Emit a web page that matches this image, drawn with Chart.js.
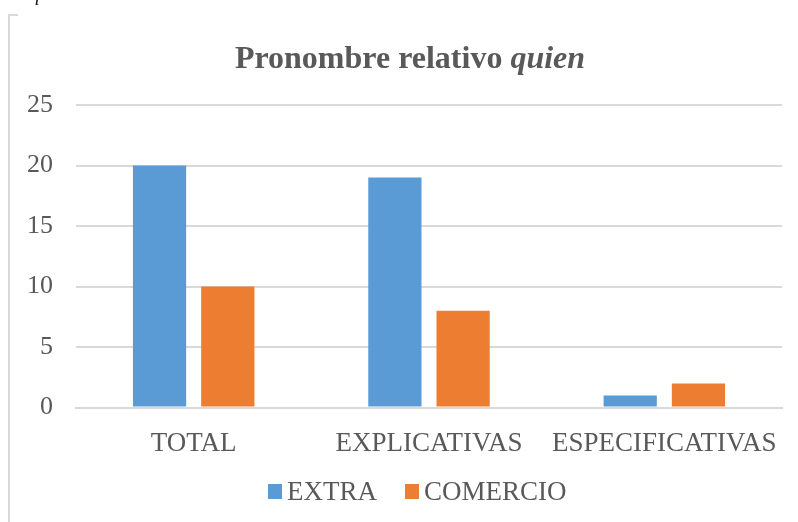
<!DOCTYPE html>
<html>
<head>
<meta charset="utf-8">
<script src="https://cdn.jsdelivr.net/npm/chart.js@4"></script>
<style>
    body { margin: 0; background: #fff; }
    #wrap { position: relative; width: 798px; height: 522px; overflow: hidden; }
    #chart { position: absolute; left: 0; top: 0; }
    .frame-left { position: absolute; left: 8px; top: 14px; width: 0; height: 520px; border-left: 2px solid #d9d9d9; }
    .frame-top { position: absolute; left: 8px; top: 14px; width: 10px; height: 0; border-top: 2px solid #d9d9d9; }
    .title {
        position: absolute; left: 0; width: 820px; top: 39px; text-align: center;
        font-family: "Liberation Serif", serif; font-weight: bold; font-size: 32px; color: #595959;
    }
    .cut { position: absolute; left: 30px; top: -18px; font-family: "Liberation Serif", serif; font-style: italic; font-size: 20px; color: #222; }
    #legend {
        position: absolute; left: 268px; top: 476px; display: flex; align-items: center;
        font-family: "Liberation Serif", serif; font-size: 27px; line-height: 31px; color: #595959;
    }
    #legend .item { display: flex; align-items: center; margin-right: 28px; }
    #legend .box { width: 14px; height: 15px; margin-right: 5px; }
</style>
</head>
<body>
<div id="wrap">
    <canvas id="chart" width="798" height="522"></canvas>
    <div class="cut">quien</div>
    <div class="frame-left"></div>
    <div class="frame-top"></div>
    <div class="title">Pronombre relativo <i>quien</i></div>
    <div id="legend"></div>
</div>
<script>
const categories = ['TOTAL', 'EXPLICATIVAS', 'ESPECIFICATIVAS'];
const extraValues = [20, 19, 1];
const comercioValues = [10, 8, 2];
const yTicks = [0, 5, 10, 15, 20, 25];
const seriesNames = ['EXTRA', 'COMERCIO'];
const seriesColors = ['#5b9bd5', '#ed7d31'];

const textColor = '#595959';
const serif = '"Liberation Serif", "Times New Roman", serif';

const chart = new Chart(document.getElementById('chart'), {
    type: 'bar',
    data: {
        labels: categories,
        datasets: [{
            label: seriesNames[0],
            data: extraValues,
            backgroundColor: seriesColors[0]
        }, {
            label: seriesNames[1],
            data: comercioValues,
            backgroundColor: seriesColors[1]
        }]
    },
    options: {
        responsive: false,
        animation: false,
        categoryPercentage: 0.58,
        barPercentage: 0.78,
        layout: { padding: { left: 6, right: 16, top: 105, bottom: 50 } },
        plugins: {
            title: { display: false },
            tooltip: { enabled: false },
            legend: { display: false }
        },
        scales: {
            x: {
                afterFit: (axis) => {
                    // long category names should not push the plot area in
                    axis.paddingLeft = 0;
                    axis.paddingRight = 0;
                },
                grid: { display: false },
                border: { color: '#d9d9d9', width: 2 },
                ticks: {
                    color: textColor,
                    font: { family: serif, size: 27 },
                    padding: 12,
                    maxRotation: 0,
                    autoSkip: false
                }
            },
            y: {
                min: 0,
                max: 25,
                afterBuildTicks: (axis) => {
                    axis.ticks = yTicks.map(v => ({ value: v }));
                },
                afterFit: (axis) => {
                    axis.width = 70;
                },
                grid: { color: '#d9d9d9', lineWidth: 2, drawTicks: false },
                border: { display: false },
                ticks: {
                    color: textColor,
                    font: { family: serif, size: 26 },
                    padding: 23
                }
            }
        }
    }
});

// legend built from the chart's datasets
const legendEl = document.getElementById('legend');
chart.data.datasets.forEach(ds => {
    const item = document.createElement('div');
    item.className = 'item';
    item.innerHTML = `<span class="box" style="background:${ds.backgroundColor}"></span><span>${ds.label}</span>`;
    legendEl.appendChild(item);
});
</script>
</body>
</html>
